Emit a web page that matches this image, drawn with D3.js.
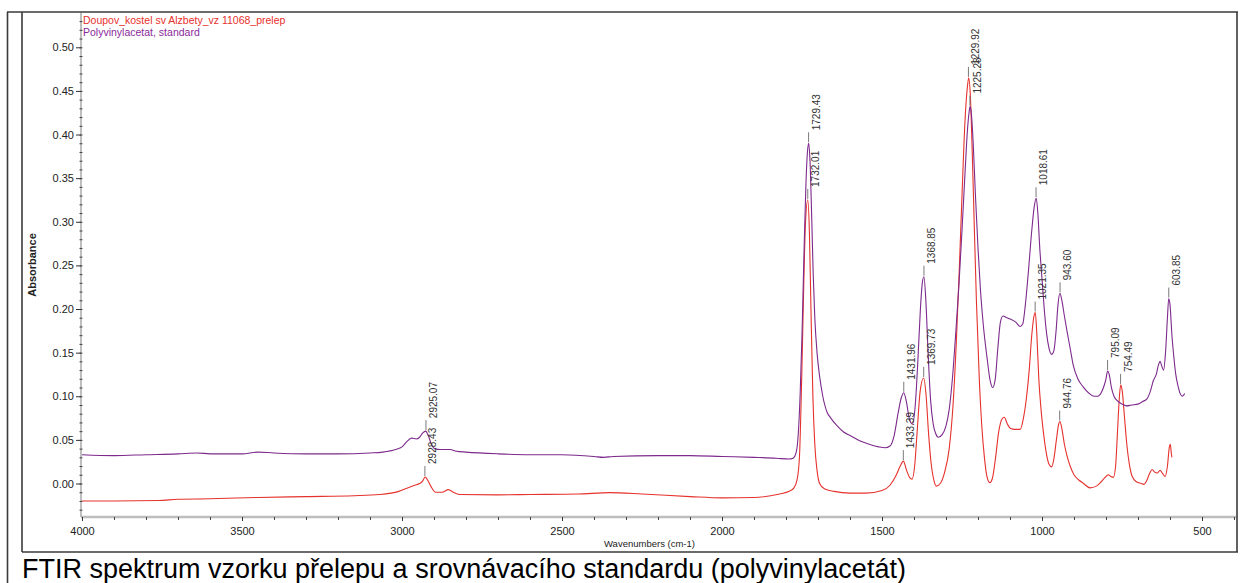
<!DOCTYPE html>
<html><head><meta charset="utf-8">
<script src="https://cdn.jsdelivr.net/npm/d3@7"></script>
<style>body{margin:0;background:#fff}svg{display:block}text{font-family:"Liberation Sans",Arial,sans-serif}</style>
</head><body><svg id="c" width="1245" height="583"></svg>
<script>
// ---- data ----
const seriesNames = ["Doupov_kostel sv Alzbety_vz 11068_prelep", "Polyvinylacetat, standard"];
const sampleWn = [4000,3900,3760,3700,3600,3450,3300,3150,3070,3010,2975,2960,2945,2935,2928,2920,2910,2895,2875,2855,2840,2820,2700,2600,2450,2350,2250,2100,2000,1900,1820,1790,1775,1765,1758,1751,1745,1739,1732,1727,1722,1716,1710,1703,1695,1680,1650,1600,1550,1500,1475,1455,1443,1433,1424,1414,1406,1398,1390,1381,1370,1362,1355,1347,1338,1330,1318,1305,1290,1278,1268,1258,1248,1240,1233,1229,1224,1218,1212,1205,1196,1188,1180,1172,1163,1155,1145,1135,1125,1118,1108,1098,1085,1068,1058,1048,1040,1032,1025,1021,1016,1010,1003,996,988,978,970,963,955,948,944,938,930,922,912,900,885,870,850,830,815,800,793,785,777,770,764,758,754,749,742,735,727,718,705,690,682,672,663,656,648,640,631,624,615,608,602,599,596,594];
const sampleAbs = [-0.020,-0.020,-0.0195,-0.018,-0.0175,-0.016,-0.015,-0.014,-0.0126,-0.009,-0.004,-0.002,0.000,0.003,0.0075,0.004,-0.003,-0.010,-0.010,-0.007,-0.010,-0.0126,-0.013,-0.0126,-0.012,-0.0105,-0.012,-0.015,-0.0165,-0.016,-0.012,-0.009,-0.005,0.005,0.03,0.12,0.22,0.30,0.325,0.29,0.20,0.10,0.045,0.015,0.000,-0.006,-0.009,-0.011,-0.011,-0.008,-0.002,0.010,0.020,0.0256,0.016,0.007,0.005,0.020,0.060,0.105,0.121,0.10,0.06,0.025,0.004,-0.003,0.000,0.012,0.040,0.090,0.16,0.25,0.35,0.42,0.455,0.465,0.445,0.38,0.30,0.21,0.12,0.065,0.030,0.008,0.001,0.006,0.030,0.060,0.074,0.076,0.068,0.063,0.062,0.062,0.075,0.100,0.130,0.170,0.192,0.196,0.17,0.12,0.085,0.060,0.038,0.022,0.019,0.028,0.050,0.068,0.071,0.063,0.045,0.032,0.020,0.010,0.004,0.000,-0.005,-0.003,0.002,0.008,0.010,0.008,0.007,0.020,0.060,0.100,0.113,0.105,0.075,0.045,0.022,0.008,0.002,0.000,-0.001,0.004,0.012,0.016,0.013,0.012,0.015,0.012,0.008,0.020,0.042,0.045,0.035,0.030];
const standardWn = [4000,3900,3800,3700,3640,3600,3500,3450,3400,3300,3200,3100,3060,3020,3000,2985,2970,2955,2945,2935,2926,2918,2908,2898,2880,2850,2830,2800,2700,2600,2500,2400,2370,2340,2200,2100,2000,1900,1830,1790,1778,1768,1762,1756,1750,1744,1738,1733,1729,1725,1720,1715,1710,1703,1695,1685,1672,1660,1640,1620,1600,1570,1540,1510,1490,1475,1462,1450,1440,1432,1424,1415,1405,1396,1388,1380,1374,1369,1363,1356,1348,1340,1332,1324,1312,1300,1290,1280,1270,1260,1250,1240,1233,1228,1225,1221,1215,1208,1200,1192,1183,1172,1162,1154,1146,1138,1130,1122,1110,1096,1082,1068,1060,1052,1042,1032,1024,1018,1013,1007,1000,993,985,978,970,963,956,950,944,938,930,922,912,902,888,872,855,838,826,815,806,800,795,790,783,775,765,750,736,720,700,685,672,662,652,643,636,631,626,620,614,608,604,600,594,588,582,575,568,562,558,554];
const standardAbs = [0.033,0.032,0.033,0.034,0.035,0.034,0.034,0.036,0.035,0.034,0.034,0.035,0.036,0.039,0.042,0.048,0.052,0.051,0.053,0.058,0.060,0.055,0.045,0.040,0.039,0.039,0.037,0.036,0.034,0.033,0.033,0.031,0.030,0.031,0.032,0.032,0.031,0.030,0.029,0.028,0.029,0.036,0.055,0.10,0.17,0.26,0.34,0.38,0.39,0.37,0.31,0.24,0.19,0.15,0.123,0.100,0.082,0.075,0.066,0.059,0.055,0.049,0.045,0.042,0.041,0.043,0.055,0.080,0.098,0.104,0.094,0.075,0.068,0.090,0.140,0.200,0.230,0.237,0.21,0.15,0.095,0.068,0.057,0.053,0.056,0.066,0.085,0.120,0.170,0.225,0.290,0.360,0.405,0.425,0.432,0.425,0.39,0.33,0.27,0.22,0.18,0.145,0.118,0.110,0.120,0.155,0.185,0.192,0.190,0.188,0.185,0.180,0.183,0.205,0.245,0.290,0.318,0.327,0.31,0.27,0.235,0.200,0.170,0.155,0.148,0.152,0.175,0.205,0.218,0.210,0.192,0.175,0.155,0.135,0.120,0.111,0.104,0.100,0.100,0.104,0.112,0.120,0.129,0.125,0.110,0.100,0.095,0.091,0.089,0.090,0.091,0.094,0.097,0.105,0.118,0.125,0.136,0.140,0.135,0.130,0.150,0.190,0.212,0.205,0.170,0.145,0.125,0.112,0.103,0.100,0.101,0.103];
const samplePeakWn = [2928.43,1732.01,1433.39,1369.73,1229.92,1021.35,944.76,754.49];
const samplePeakAbs = [0.0075,0.325,0.0256,0.121,0.465,0.196,0.071,0.113];
const standardPeakWn = [2925.07,1729.43,1431.96,1368.85,1225.28,1018.61,943.60,795.09,603.85];
const standardPeakAbs = [0.060,0.39,0.104,0.237,0.432,0.327,0.218,0.129,0.212];
const xTicks = [4000,3500,3000,2500,2000,1500,1000,500];
const yTicks = [0.00,0.05,0.10,0.15,0.20,0.25,0.30,0.35,0.40,0.45,0.50];
const xTitle = "Wavenumbers (cm-1)";
const yTitle = "Absorbance";
const caption = "FTIR spektrum vzorku přelepu a srovnávacího standardu (polyvinylacetát)";

// ---- drawing ----
const svg = d3.select("#c");
svg.append("rect").attr("width",1245).attr("height",583).attr("fill","#fff");
const x = d3.scaleLinear().domain([4000,400]).range([82,1234]);
const y = d3.scaleLinear().domain([-0.0384,0.5393]).range([517,13]);
const colors = ["#e5322d","#7d2a8c"];
const textColors = ["#e8302c","#8a2a9a"];

// frames
const fr = svg.append("g").attr("stroke","#3a3a3a").attr("stroke-width",1.6).attr("fill","none");
fr.append("line").attr("x1",7.5).attr("x2",7.5).attr("y1",12).attr("y2",583);
fr.append("line").attr("x1",7).attr("x2",1238).attr("y1",12).attr("y2",12);
fr.append("line").attr("x1",22).attr("x2",22).attr("y1",12).attr("y2",552);
fr.append("line").attr("x1",22).attr("x2",1238).attr("y1",552).attr("y2",552);
fr.append("line").attr("x1",1237).attr("x2",1237).attr("y1",12).attr("y2",552);

// axes
const xAxis = svg.append("g").attr("transform","translate(0,517)");
xAxis.append("line").attr("x1",81).attr("x2",1236).attr("stroke","#bdbdbd").attr("stroke-width",2.5);
xAxis.call(g=>{
  const ax = d3.axisBottom(x).tickValues(d3.range(4000,399,-100)).tickSize(3).tickFormat("");
  const gg = g.append("g").call(ax); gg.select(".domain").remove(); gg.selectAll("line").attr("stroke","#444");
  const ax2 = d3.axisBottom(x).tickValues(xTicks).tickSize(4).tickPadding(6).tickFormat(d3.format("d"));
  const g2 = g.append("g").call(ax2); g2.select(".domain").remove();
  g2.selectAll("line").attr("stroke","#333");
  g2.selectAll("text").attr("font-size",11).attr("fill","#222").attr("font-family","Liberation Sans, Arial");
});
const yAxis = svg.append("g").attr("transform","translate(81,0)");
yAxis.append("line").attr("y1",13).attr("y2",517).attr("stroke","#a8a8a8").attr("stroke-width",1.5);
yAxis.call(g=>{
  const minor = d3.range(-0.03,0.535,0.01).map(v=>Math.round(v*100)/100);
  const gm = g.append("g").call(d3.axisLeft(y).tickValues(minor).tickSize(2).tickFormat(""));
  gm.select(".domain").remove(); gm.selectAll("line").attr("stroke","#444").attr("x2",1.5).attr("x1",-1.5);
  const g2 = g.append("g").call(d3.axisLeft(y).tickValues(yTicks).tickSize(5).tickPadding(2).tickFormat(d3.format(".2f")));
  g2.select(".domain").remove(); g2.selectAll("line").attr("stroke","#333");
  g2.selectAll("text").attr("font-size",11).attr("fill","#222").attr("font-family","Liberation Sans, Arial");
});
svg.append("text").attr("transform","translate(36,265) rotate(-90)").attr("text-anchor","middle")
  .attr("font-size",11).attr("font-weight","bold").attr("fill","#222").text(yTitle);
svg.append("text").attr("x",604).attr("y",547).attr("font-size",9.5).attr("fill","#222").text(xTitle);

// lines
const line = d3.line().x(d=>x(d[0])).y(d=>y(d[1])).curve(d3.curveMonotoneX);
const plot = svg.append("g");
[[sampleWn,sampleAbs],[standardWn,standardAbs]].forEach(([w,a],i)=>{
  plot.append("path").datum(w.map((v,j)=>[v,a[j]])).attr("d",line)
    .attr("fill","none").attr("stroke",colors[i]).attr("stroke-width",1.1);
});

// peak labels
function peaks(wn, ab){
  const g = svg.append("g");
  wn.forEach((w,i)=>{
    const px = x(w), py = y(ab[i]);
    g.append("line").attr("x1",px).attr("x2",px).attr("y1",py-1).attr("y2",py-11).attr("stroke","#7a7a7a").attr("stroke-width",1);
    g.append("text").attr("transform",`translate(${px+11},${py-13}) rotate(-90)`)
      .attr("font-size",10).attr("fill","#333").text(w.toFixed(2));
  });
}
peaks(samplePeakWn, samplePeakAbs);
peaks(standardPeakWn, standardPeakAbs);

// legend
seriesNames.forEach((n,i)=>{
  svg.append("text").attr("x",83).attr("y",24+i*12).attr("font-size",10.5).attr("fill",textColors[i]).text(n);
});

// caption
svg.append("text").attr("x",22).attr("y",578).attr("font-size",27).attr("fill","#000").text(caption);
</script></body></html>
